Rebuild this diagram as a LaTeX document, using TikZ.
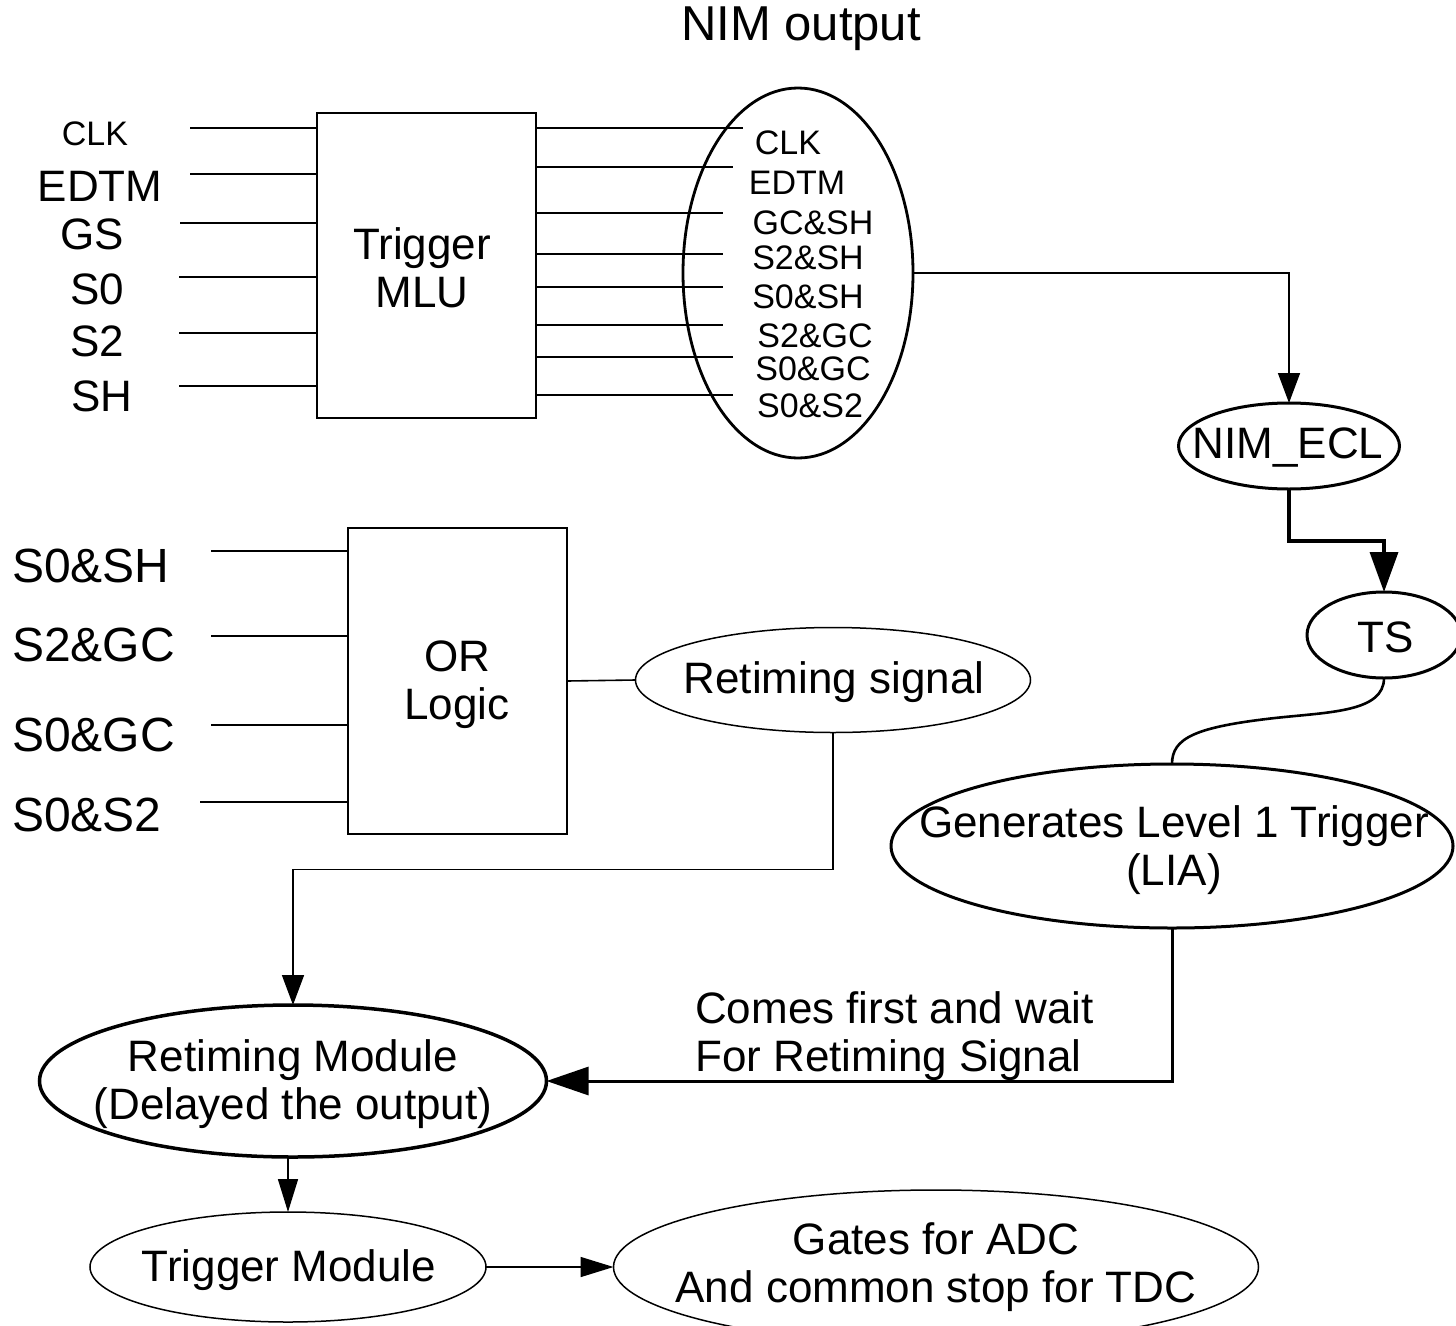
\documentclass[tikz,border=0pt]{standalone}
\usepackage{fontspec}
\setmainfont{Liberation Sans}
\usetikzlibrary{arrows.meta,shapes.geometric}
\begin{document}
\begin{tikzpicture}[x=1pt,y=-1pt,
  thinln/.style={line width=1.6pt},
  thickln/.style={line width=3.2pt},
  boxnode/.style={draw,line width=2pt,inner sep=0pt,outer sep=0pt},
  ell/.style={draw,ellipse,inner sep=0pt,outer sep=0pt},
  txt/.style={inner sep=0pt,font=\fontsize{44}{48}\selectfont,align=center},
  smalltxt/.style={inner sep=0pt,font=\fontsize{34}{40}\selectfont},
  bigtxt/.style={inner sep=0pt,font=\fontsize{48}{56}\selectfont,anchor=west},
  tipA/.style={-{Triangle[length=30pt,width=22pt]}},
  tipB/.style={-{Triangle[length=40pt,width=28pt]}},
]
\useasboundingbox (0,0) rectangle (1456,1325);

% title
\node[inner sep=0pt,font=\fontsize{49}{56}\selectfont] (title) at (801,29) {NIM output};

% Trigger MLU block
\node[boxnode,minimum width=219pt,minimum height=305pt] (mlu) at (426.5,265.5) {};
\node[txt] (mlutxt) at (422,268) {Trigger\\MLU};

% input labels
\node[smalltxt] (lclk) at (95,134) {CLK};
\node[txt] (ledtm) at (100,186) {EDTM};
\node[txt] (lgs) at (92,234) {GS};
\node[txt] (ls0) at (97,289) {S0};
\node[txt] (ls2) at (97,341) {S2};
\node[txt] (lsh) at (102,396) {SH};

% input line starts
\coordinate (i1) at (190,128);
\coordinate (i2) at (190,174);
\coordinate (i3) at (180,223);
\coordinate (i4) at (179,277);
\coordinate (i5) at (179,333);
\coordinate (i6) at (179,386);
\foreach \i in {1,...,6} \draw[thinln] (i\i) -- (i\i -| mlu.west);

% NIM output ellipse
\node[ell,line width=2.8pt,minimum width=230pt,minimum height=370pt] (nim) at (798,273) {};

% output line ends
\coordinate (o1) at (743,128);
\coordinate (o2) at (733,167);
\coordinate (o3) at (723,213);
\coordinate (o4) at (723,254);
\coordinate (o5) at (723,287);
\coordinate (o6) at (723,325);
\coordinate (o7) at (733,357);
\coordinate (o8) at (733,395);
\foreach \i in {1,...,8} \draw[thinln] (o\i -| mlu.east) -- (o\i);

\node[smalltxt] (e1) at (788,143) {CLK};
\node[smalltxt] (e2) at (797,183) {EDTM};
\node[smalltxt] (e3) at (813,223) {GC\&SH};
\node[smalltxt] (e4) at (808,258) {S2\&SH};
\node[smalltxt] (e5) at (808,297) {S0\&SH};
\node[smalltxt] (e6) at (815,336) {S2\&GC};
\node[smalltxt] (e7) at (813,369) {S0\&GC};
\node[smalltxt] (e8) at (810,406) {S0\&S2};

% NIM_ECL and TS
\node[ell,line width=3pt,minimum width=221pt,minimum height=86pt] (nimecl) at (1289,446) {};
\node[txt] at (1288,448) {NIM\_ECL};
\node[ell,line width=3pt,minimum width=154pt,minimum height=86pt] (ts) at (1384,635) {};
\node[txt] at (1386,637) {TS};

\draw[thinln,tipA] (nim.east) -| (nimecl.north);
\draw[line width=3.5pt,tipB] (nimecl.south) -- ++(0,52) -| (ts.north);

% Generates Level 1 Trigger
\node[ell,line width=3pt,minimum width=562pt,minimum height=164pt] (gen) at (1172,846) {};
\node[txt] at (1174,850) {Generates Level 1 Trigger\\(LIA)};
\draw[line width=2.6pt] (ts.south) .. controls (1384,712) and (1330,712) .. (1275,718)
   .. controls (1195,727) and (1172,738) .. (gen.north);

% OR logic block
\node[boxnode,minimum width=219pt,minimum height=306pt] (orb) at (457.5,681) {};
\node[txt] at (457,685) {OR\\Logic};
\node[bigtxt] (l1) at (12,566) {S0\&SH};
\node[bigtxt] (l2) at (12,645) {S2\&GC};
\node[bigtxt] (l3) at (12,735) {S0\&GC};
\node[bigtxt] (l4) at (12,815) {S0\&S2};
\coordinate (j1) at (211,551);
\coordinate (j2) at (211,636);
\coordinate (j3) at (211,725);
\coordinate (j4) at (200,802);
\foreach \i in {1,...,4} \draw[thinln] (j\i) -- (j\i -| orb.west);

% Retiming signal
\node[ell,line width=1.5pt,minimum width=395pt,minimum height=105pt] (retsig) at (833,680) {};
\node[txt] at (834,682) {Retiming signal};
\draw[thinln] (orb.east) -- (retsig.west);

% Retiming module
\node[ell,line width=3.5pt,minimum width=507pt,minimum height=152pt] (retmod) at (293,1081) {};
\node[txt] at (293,1084) {Retiming Module\\(Delayed the output)};
\draw[thinln,tipA] (retsig.south) -- ++(0,137) -| (retmod.north);

% Comes first...
\draw[line width=3pt,-{Triangle[length=42pt,width=28pt]}] (gen.south) |- (retmod.east);
\node[txt,align=left,anchor=west] (note) at (695,1036) {Comes first and wait\\For Retiming Signal};

% Trigger module
\node[ell,line width=1.5pt,minimum width=396pt,minimum height=110pt] (trigmod) at (288,1267) {};
\node[txt] at (289,1270) {Trigger Module};
\draw[thinln,-{Triangle[length=33pt,width=20pt]}] (trigmod.north |- retmod.south) -- (trigmod.north);

% Gates
\node[ell,line width=1.5pt,minimum width=645pt,minimum height=154pt] (gates) at (936,1267) {};
\node[txt] at (936,1267) {Gates for ADC\\And common stop for TDC};
\draw[thinln,-{Triangle[length=33pt,width=20pt]}] (trigmod.east) -- (gates.west);
\end{tikzpicture}
\end{document}
